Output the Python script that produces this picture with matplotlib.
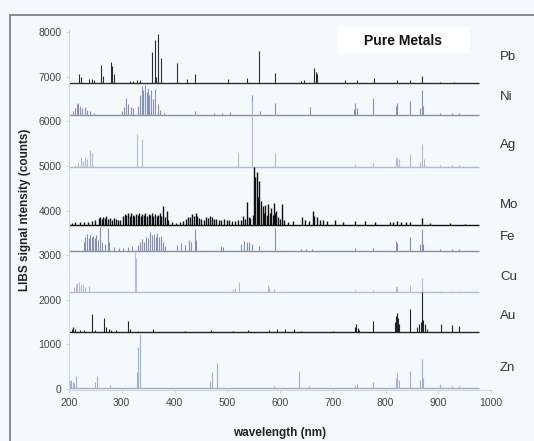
import numpy as np
import matplotlib
matplotlib.use('Agg')
from matplotlib import pyplot as plt
from matplotlib.patches import Rectangle

plt.rcParams['font.family'] = ['Liberation Sans', 'DejaVu Sans']

# spectra: baseline offset and (wavelength nm, peak top in counts)
wlStart, wlEnd = 200, 977

pbBase = 6860
pbPeaks = [(219, 7055), (222, 6990), (238, 6950), (244, 6945), (248, 6930), (260, 7262),
           (264, 7030), (279, 7336), (282, 7250), (286, 7060), (316, 6910), (322, 6915),
           (328, 6925), (335, 6920), (357, 7560), (363, 7837), (364, 7000), (368, 7970),
           (374, 7426), (405, 7315), (423, 6960), (438, 7055), (501, 6960), (537, 6975),
           (561, 7575), (590, 7090), (640, 6915), (645, 6920), (665, 7200), (668, 7100),
           (670, 7055), (724, 6925), (746, 6940), (779, 6975), (822, 6935), (846, 6940),
           (869, 7010), (904, 6890), (929, 6885)]

niBase = 6150
niPeaks = [(208, 6230), (212, 6300), (215, 6380), (218, 6420), (221, 6350), (225, 6300),
           (230, 6320), (234, 6260), (240, 6240), (247, 6200), (300, 6240), (305, 6330),
           (309, 6530), (312, 6380), (318, 6330), (322, 6300), (330, 6350), (335, 6600),
           (338, 6790), (341, 6700), (344, 6815), (347, 6650), (350, 6760), (352, 6600),
           (356, 6700), (360, 6500), (363, 6720), (368, 6400), (373, 6250), (380, 6200),
           (439, 6235), (475, 6190), (490, 6200), (505, 6210), (547, 6585), (562, 6230),
           (590, 6420), (656, 6330), (740, 6280), (743, 6420), (746, 6300), (777, 6518),
           (820, 6350), (822, 6420), (846, 6450), (866, 6300), (869, 6704), (872, 6350),
           (904, 6200), (926, 6190), (939, 6190)]

agBase = 4980
agPeaks = [(212, 5030), (218, 5100), (222, 5207), (226, 5120), (230, 5210), (235, 5150),
           (240, 5356), (244, 5300), (328, 5727), (338, 5602), (521, 5303), (546.5, 6450),
           (590, 5300), (743, 5050), (777, 5060), (820, 5180), (822, 5200), (826, 5150),
           (846, 5260), (866, 5100), (869, 5490), (873, 5150), (904, 5020), (926, 5015),
           (939, 5015)]

moBase = 3680
moPeaks = [(205, 3730), (212, 3745), (220, 3740), (228, 3755), (236, 3750), (244, 3770),
           (250, 3790), (256, 3830), (259, 3860), (262, 3810), (265, 3850), (268, 3830),
           (271, 3870), (274, 3820), (277, 3840), (281, 3800), (285, 3830), (289, 3810),
           (293, 3790), (297, 3800), (303, 3880), (306, 3920), (309, 3900), (312, 3950),
           (315, 3890), (318, 3940), (321, 3910), (324, 3880), (327, 3930), (330, 3900),
           (333, 3950), (336, 3890), (339, 3920), (342, 3900), (345, 3940), (348, 3880),
           (351, 3930), (354, 3900), (357, 3950), (360, 3890), (363, 3920), (366, 3880),
           (369, 3900), (372, 3940), (375, 3870), (379, 4110), (382, 3850), (385, 4000),
           (388, 3800), (395, 3740), (402, 3730), (410, 3750), (416, 3760), (422, 3820),
           (426, 3860), (430, 3850), (434, 3920), (437, 3880), (440, 3950), (443, 3870),
           (447, 3840), (451, 3820), (455, 3800), (459, 3850), (463, 3830), (467, 3880),
           (471, 3850), (475, 3820), (479, 3810), (484, 3800), (489, 3790), (494, 3820),
           (499, 3780), (504, 3790), (509, 3770), (514, 3760), (520, 3780), (526, 3800),
           (530, 3880), (534, 3820), (537, 4185), (541, 3850), (544, 3830), (548, 3900),
           (551, 4968), (553, 4750), (556, 4857), (558, 4300), (561, 4670), (564, 4223),
           (567, 4110), (570, 3950), (572, 4130), (575, 3900), (578, 4150), (581, 3950),
           (583, 4050), (586, 3900), (588, 4170), (591, 3950), (593, 4000), (597, 3850),
           (600, 3820), (604, 4148), (608, 3800), (615, 3750), (625, 3760), (641, 3850),
           (648, 3780), (655, 3770), (662, 4000), (665, 3880), (670, 3850), (676, 3800),
           (682, 3790), (690, 3760), (705, 3780), (720, 3750), (743, 3770), (762, 3760),
           (780, 3740), (808, 3740), (815, 3750), (822, 3760), (830, 3740), (838, 3745),
           (846, 3750), (869, 3830), (885, 3730), (922, 3720), (950, 3710)]

feBase = 3100
fePeaks = [(228, 3300), (231, 3420), (234, 3480), (237, 3380), (240, 3460), (243, 3400),
           (246, 3440), (249, 3380), (252, 3450), (255, 3350), (259, 3642), (262, 3300),
           (268, 3250), (273, 3615), (276, 3300), (285, 3180), (295, 3170), (303, 3160),
           (312, 3180), (320, 3200), (330, 3220), (335, 3300), (339, 3365), (342, 3300),
           (346, 3420), (350, 3380), (354, 3515), (358, 3450), (361, 3480), (364, 3400),
           (367, 3500), (371, 3420), (374, 3440), (378, 3300), (382, 3200), (405, 3220),
           (413, 3270), (420, 3230), (427, 3340), (431, 3300), (438, 3590), (440, 3350),
           (489, 3200), (492, 3180), (527, 3250), (532, 3310), (537, 3300), (542, 3290),
           (546, 3250), (561, 3200), (590, 3613), (640, 3150), (650, 3140), (660, 3140),
           (743, 3160), (777, 3170), (820, 3330), (822, 3280), (846, 3400), (866, 3250),
           (869, 3590), (872, 3250), (904, 3150), (926, 3140), (939, 3140)]

cuBase = 2180
cuPeaks = [(210, 2300), (213, 2350), (216, 2380), (219, 2400), (222, 2330), (226, 2360),
           (230, 2290), (237, 2320), (324.7, 3068), (327.4, 2950), (510, 2250), (515, 2270),
           (522, 2410), (578, 2340), (580, 2280), (589, 2250), (743, 2220), (777, 2230),
           (820, 2320), (822, 2300), (846, 2340), (869, 2480), (904, 2210), (926, 2205),
           (939, 2205)]

auBase = 1290
auPeaks = [(205, 1340), (208, 1390), (212, 1340), (220, 1330), (228, 1320), (243, 1676),
           (250, 1330), (266, 1602), (270, 1400), (275, 1340), (280, 1320), (290, 1320),
           (311, 1520), (315, 1350), (330, 1310), (360, 1340), (420, 1310), (470, 1330),
           (510, 1310), (540, 1330), (580, 1320), (595, 1340), (610, 1350), (627, 1340),
           (640, 1310), (700, 1310), (743, 1400), (745, 1460), (748, 1380), (750, 1330),
           (777, 1520), (818, 1500), (820, 1650), (822, 1706), (824, 1600), (826, 1450),
           (846, 1803), (860, 1400), (864, 1450), (867, 1500), (869, 2175), (871, 1550),
           (874, 1450), (878, 1350), (905, 1450), (927, 1430), (939, 1420)]

znBase = 20
znPeaks = [(201, 180), (204, 200), (207, 150), (210, 130), (213, 290), (249, 160), (254, 283),
           (278, 90), (328, 387), (330, 945), (334, 1245), (468, 190), (472, 390), (481, 588),
           (589, 80), (636, 410), (655, 80), (743, 90), (746, 120), (777, 170), (820, 250),
           (822, 355), (825, 200), (846, 405), (866, 200), (869, 686), (872, 250), (904, 110),
           (926, 80), (939, 80)]

metals = ['Pb', 'Ni', 'Ag', 'Mo', 'Fe', 'Cu', 'Au', 'Zn']
bases = [pbBase, niBase, agBase, moBase, feBase, cuBase, auBase, znBase]
peaks = [pbPeaks, niPeaks, agPeaks, moPeaks, fePeaks, cuPeaks, auPeaks, znPeaks]
colors = ['#2b2d36', '#8692b0', '#aebbd3', '#111111', '#8490ae', '#b2bed6', '#222228', '#a2b0cb']
widths = [0.8, 0.8, 0.8, 1.0, 0.8, 0.8, 0.8, 0.8]
labelY = [57, 97, 145, 205, 237, 277, 316, 368]  # pixel rows of the element names

W, H = 534, 441
fig = plt.figure(figsize=(W/100, H/100), dpi=100, facecolor='#f5f9fb')
ax = fig.add_axes([69/W, 1-390/H, (491-69)/W, (390-30)/H])
ax.set_facecolor('none')

for base, pk, col, lw in zip(bases, peaks, colors, widths):
  wl = [p[0] for p in pk]
  top = [p[1] for p in pk]
  ax.vlines(wl, base, top, colors=col, lw=lw)
  ax.hlines(base, wlStart, wlEnd, colors=col, lw=1.0)

ax.set_xlim(200, 1000)
ax.set_ylim(-20, 8050)
ax.set_xticks(range(200, 1001, 100))
ax.set_yticks(range(0, 8001, 1000))
for s in ['top', 'right']:
  ax.spines[s].set_visible(False)
for s in ['left', 'bottom']:
  ax.spines[s].set_color('#d0d6df')
  ax.spines[s].set_linewidth(0.8)
ax.spines['left'].set_bounds(0, 8050)
ax.tick_params(length=2.5, width=0.6, color='#c8ced8', labelsize=7.5, labelcolor='#444444', pad=3)

ax.set_xlabel('wavelength (nm)', fontsize=8.5, fontweight='bold', color='#222222', labelpad=14)
ax.set_ylabel('LIBS signal ntensity (counts)', fontsize=8.5, fontweight='bold', color='#222222', labelpad=5)

for name, py in zip(metals, labelY):
  fig.text(500/W, 1-py/H, name, fontsize=9.5, color='#333333', va='center', ha='left')

fig.patches.append(Rectangle((337/W, 1-53/H), (470-337)/W, 26/H, transform=fig.transFigure,
                             facecolor='white', edgecolor='none', zorder=2))
fig.text(403/W, 1-41/H, 'Pure Metals', fontsize=10, fontweight='bold', color='#111111',
         ha='center', va='center', zorder=3)

fig.patches.append(Rectangle((10/W, -0.05), 1.2, 1.05-15/H, transform=fig.transFigure,
                             facecolor='none', edgecolor='#7d838e', lw=1.3, zorder=1))

fig.savefig('out.png', dpi=100, facecolor=fig.get_facecolor())
